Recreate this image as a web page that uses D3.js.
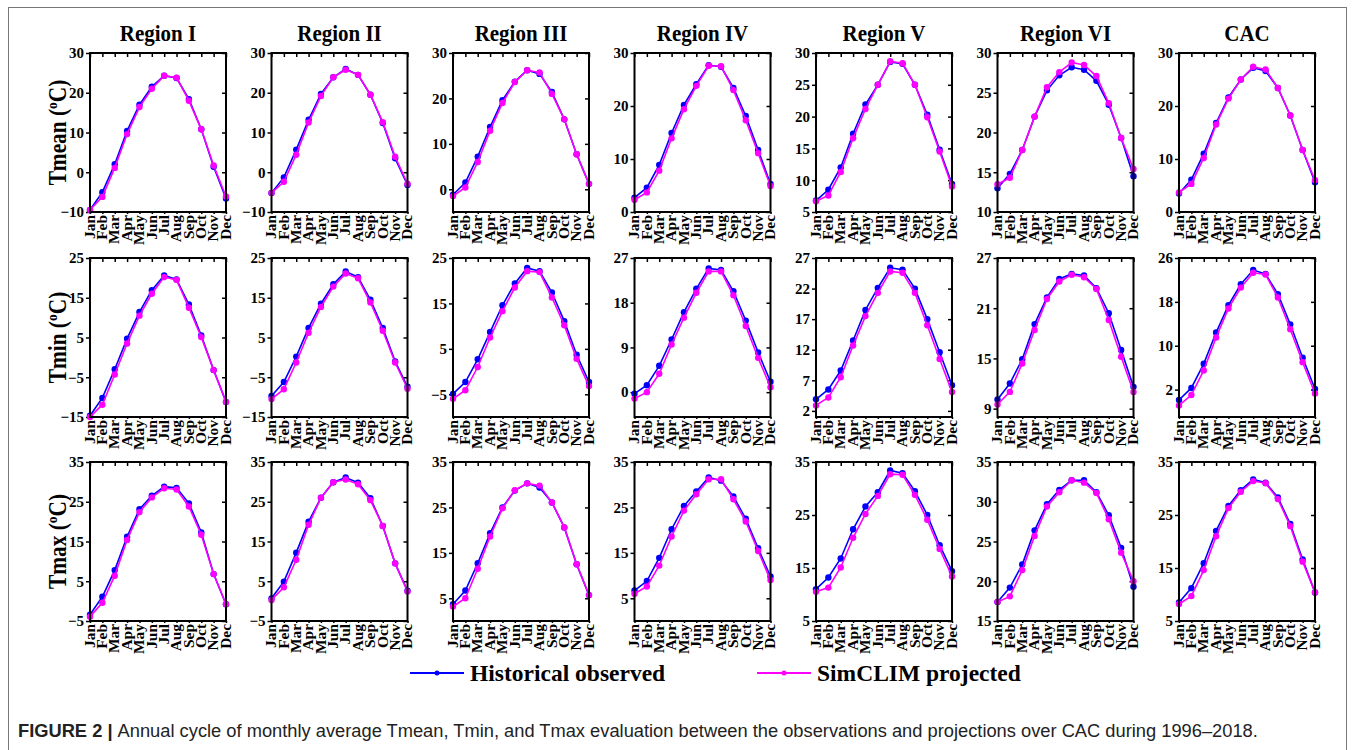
<!DOCTYPE html>
<html><head><meta charset="utf-8">
<script src="https://cdn.jsdelivr.net/npm/d3@7"></script>
<style>
body{margin:0;background:#fff;}
svg{display:block;}
</style></head>
<body>
<svg id="chart" width="1355" height="750"></svg>
<script>
const months = ["Jan","Feb","Mar","Apr","May","Jun","Jul","Aug","Sep","Oct","Nov","Dec"];
const regions = ["Region I","Region II","Region III","Region IV","Region V","Region VI","CAC"];
const variables = ["Tmean","Tmin","Tmax"];
const seriesNames = ["Historical observed","SimCLIM projected"];

// Tmean (order: Region I..VI, CAC)
const tmeanObs = [
  [-9.5,-5.0,2.0,10.4,17.0,21.5,24.3,23.7,18.4,10.8,1.4,-6.6],
  [-5.2,-1.3,5.7,13.2,19.7,23.9,26.0,24.5,19.5,12.4,3.5,-3.2],
  [-1.2,1.5,7.2,13.7,19.6,23.7,26.2,25.4,21.4,15.4,7.7,1.2],
  [2.7,4.6,8.9,14.9,20.2,24.1,27.7,27.4,23.4,18.1,11.7,5.3],
  [6.8,8.5,12.0,17.3,21.9,25.0,28.6,28.3,25.0,20.3,14.8,9.4],
  [13.0,14.8,17.8,22.0,25.3,27.2,28.2,27.9,26.5,23.5,19.3,14.5],
  [3.5,6.1,11.0,16.8,21.6,25.0,27.2,26.6,23.4,18.2,11.7,5.6]
];
const tmeanSim = [
  [-9.5,-6.2,1.1,9.6,16.4,21.0,24.3,23.8,18.0,10.8,1.7,-6.1],
  [-5.2,-2.4,4.4,12.5,19.2,23.9,25.8,24.5,19.5,12.6,3.9,-2.9],
  [-1.5,0.4,6.0,12.9,19.0,23.6,26.2,25.7,21.0,15.4,7.7,1.2],
  [2.3,3.7,7.8,13.9,19.4,23.8,27.6,27.5,23.0,17.3,11.1,4.9],
  [6.7,7.6,11.3,16.6,21.2,25.0,28.7,28.4,25.0,19.9,14.5,9.0],
  [13.5,14.3,17.8,22.0,25.7,27.6,28.8,28.5,27.1,23.7,19.3,15.4],
  [3.7,5.3,10.2,16.5,21.4,25.0,27.4,26.9,23.4,18.2,11.7,6.0]
];
// Tmin
const tminObs = [
  [-14.7,-10.2,-3.0,4.7,11.4,16.9,20.6,19.6,13.3,5.5,-3.2,-11.2],
  [-9.7,-6.2,0.2,7.4,13.5,18.4,21.6,20.2,14.5,7.4,-1.0,-7.4],
  [-4.9,-2.3,2.7,8.7,14.6,19.4,22.8,22.1,17.4,11.1,3.7,-2.3],
  [-0.3,1.4,5.3,10.6,16.1,20.8,24.9,24.6,20.3,14.4,8.0,2.1],
  [3.9,5.5,8.6,13.5,18.5,22.1,25.4,25.1,22.0,17.0,11.6,6.2],
  [10.1,12.0,14.9,19.1,22.3,24.5,25.1,24.9,23.4,20.4,16.0,11.6],
  [0.1,2.3,6.7,12.4,17.4,21.2,23.8,23.1,19.4,13.9,7.8,2.1]
];
const tminSim = [
  [-15.0,-11.9,-4.3,3.5,10.5,16.0,20.2,19.5,12.5,5.1,-3.2,-11.2],
  [-10.5,-8.0,-1.3,6.2,12.7,17.8,21.1,19.9,13.8,6.7,-1.3,-7.9],
  [-6.0,-4.1,1.0,7.5,13.3,18.5,22.1,21.9,16.3,10.2,2.8,-3.2],
  [-1.3,0.0,3.7,9.6,15.0,20.0,24.3,24.3,19.5,13.3,6.9,1.0],
  [2.9,4.2,7.5,12.7,17.5,21.3,24.8,24.6,21.3,16.0,10.5,5.1],
  [9.5,11.0,14.4,18.4,22.1,24.2,25.0,24.7,23.3,19.6,15.2,11.0],
  [-0.9,1.0,5.5,11.5,16.8,20.6,23.3,23.0,18.8,13.0,7.0,1.3]
];
// Tmax
const tmaxObs = [
  [-3.4,1.1,7.8,16.2,23.1,26.5,28.8,28.5,24.6,17.3,6.8,-0.8],
  [0.7,4.9,12.2,20.0,26.0,29.9,31.1,29.8,25.9,18.9,9.5,2.6],
  [3.7,6.7,12.7,19.3,25.0,28.7,30.3,29.4,26.1,20.6,12.5,5.7],
  [6.7,8.8,13.9,20.2,25.3,28.5,31.6,30.9,27.4,22.5,16.0,9.8],
  [11.0,13.2,16.8,22.3,26.6,29.3,33.4,32.9,29.5,25.0,19.3,14.4],
  [17.4,19.2,22.1,26.4,29.7,31.5,32.7,32.7,31.2,28.3,24.2,19.3],
  [8.5,11.2,15.9,22.0,26.7,29.7,31.7,31.1,28.3,23.3,16.6,10.4]
];
const tmaxSim = [
  [-3.9,-0.4,6.4,15.4,22.4,26.1,28.4,28.1,23.8,16.7,6.8,-0.8],
  [0.3,3.5,10.4,19.2,26.0,29.9,30.6,29.4,25.4,18.9,9.5,2.4],
  [3.2,5.0,11.5,18.6,24.8,28.8,30.3,29.8,26.1,20.6,12.5,5.7],
  [6.0,7.6,12.2,18.6,24.3,27.9,31.2,31.2,26.8,21.9,15.4,9.0],
  [10.5,11.3,15.1,20.7,25.2,28.6,32.7,32.6,28.8,24.1,18.6,13.4],
  [17.4,18.1,21.4,25.7,29.4,31.2,32.7,32.4,31.1,27.8,23.6,20.0],
  [8.2,9.7,14.6,21.0,26.3,29.4,31.4,31.0,28.0,22.9,16.2,10.4]
];

// y-axis domains and tick labels per panel
const tmeanDomains = [[-10,30],[-10,30],[-5,30],[0,30],[5,30],[10,30],[0,30]];
const tmeanTicks = [[-10,0,10,20,30],[-10,0,10,20,30],[0,10,20,30],[0,10,20,30],[5,10,15,20,25,30],[10,15,20,25,30],[0,10,20,30]];
const tminDomains = [[-15,25],[-15,25],[-10,25],[-5,27],[1,27],[8,27],[-3,26]];
const tminTicks = [[-15,-5,5,15,25],[-15,-5,5,15,25],[-5,5,15,25],[0,9,18,27],[2,7,12,17,22,27],[9,15,21,27],[2,10,18,26]];
const tmaxDomains = [[-5,35],[-5,35],[0,35],[0,35],[5,35],[15,35],[5,35]];
const tmaxTicks = [[-5,5,15,25,35],[-5,5,15,25,35],[5,15,25,35],[5,15,25,35],[5,15,25,35],[15,20,25,30,35],[5,15,25,35]];

const colors = ["#0000ff","#ff00ff"];
const rows = [
  {name:"Tmean", obs:tmeanObs, sim:tmeanSim, domains:tmeanDomains, ticks:tmeanTicks},
  {name:"Tmin", obs:tminObs, sim:tminSim, domains:tminDomains, ticks:tminTicks},
  {name:"Tmax", obs:tmaxObs, sim:tmaxSim, domains:tmaxDomains, ticks:tmaxTicks}
];

const svg = d3.select("#chart");
const serif = "'Liberation Serif','Times New Roman',serif";

// outer frame
svg.append("rect").attr("x",8.5).attr("y",7.5).attr("width",1338).attr("height",760)
  .attr("fill","none").attr("stroke","#777").attr("stroke-width",1);

const W = 136, H = 159;
const left0 = 90, dx = 181.5;
const tops = [53, 258, 462];

const x = d3.scalePoint().domain(months).range([0, W]).padding(0);

// column titles
regions.forEach((r,i)=>{
  svg.append("text").attr("transform",`translate(${left0 + i*dx + W/2},41) scale(1,1.12)`)
    .attr("text-anchor","middle").attr("font-family",serif).attr("font-weight","bold")
    .attr("font-size",21).text(r);
});

rows.forEach((row, ri)=>{
  const top = tops[ri];
  // row label
  const lab = svg.append("text")
    .attr("transform",`translate(66,${top+H/2}) rotate(-90) scale(0.97,1.1)`)
    .attr("text-anchor","middle").attr("font-family",serif).attr("font-weight","bold")
    .attr("font-size",22);
  lab.append("tspan").text(row.name + " (");
  lab.append("tspan").attr("font-size",14).attr("dy",-8).text("o");
  lab.append("tspan").attr("dy",8).text("C)");

  regions.forEach((reg, ci)=>{
    const g = svg.append("g").attr("transform",`translate(${left0 + ci*dx},${top})`);
    const y = d3.scaleLinear().domain(row.domains[ci]).range([H,0]);
    const ticks = row.ticks[ci];

    // left axis
    const ly = g.append("g").call(d3.axisLeft(y).tickValues(ticks).tickSize(4).tickPadding(2).tickFormat(d3.format("d")));
    ly.select(".domain").remove();
    ly.selectAll("line").attr("stroke","#000").attr("stroke-width",1.5);
    ly.selectAll("text").attr("font-family",serif).attr("font-weight","bold").attr("font-size",15).attr("fill","#000");
    // right axis inward
    const ry = g.append("g").attr("transform",`translate(${W},0)`).call(d3.axisLeft(y).tickValues(ticks).tickSize(4).tickFormat(""));
    ry.select(".domain").remove();
    ry.selectAll("line").attr("stroke","#000").attr("stroke-width",1.5);
    // top axis inward
    const tx = g.append("g").call(d3.axisBottom(x).tickSize(4).tickFormat(""));
    tx.select(".domain").remove();
    tx.selectAll("line").attr("stroke","#000").attr("stroke-width",1.5);
    // bottom axis
    const bx = g.append("g").attr("transform",`translate(0,${H})`).call(d3.axisBottom(x).tickSize(2).tickFormat(""));
    bx.select(".domain").remove();
    bx.selectAll("line").attr("stroke","#000").attr("stroke-width",1.5);
    // month labels
    g.append("g").selectAll("text").data(months).join("text")
      .attr("transform", d=>`translate(${x(d)},${H+3}) rotate(-90) scale(1.1,1)`)
      .attr("text-anchor","end").attr("dominant-baseline","central")
      .attr("font-family",serif).attr("font-weight","bold").attr("font-size",14)
      .text(d=>d);

    // series
    [row.obs[ci], row.sim[ci]].forEach((vals, si)=>{
      const pts = vals.map((v,k)=>({m:months[k], v}));
      g.append("path").datum(pts)
        .attr("fill","none").attr("stroke",colors[si]).attr("stroke-width",1.6)
        .attr("d", d3.line().x(d=>x(d.m)).y(d=>y(d.v)));
      g.append("g").selectAll("circle").data(pts).join("circle")
        .attr("cx", d=>x(d.m)).attr("cy", d=>y(d.v)).attr("r",3.2)
        .attr("fill",colors[si]);
    });

    // frame
    g.append("rect").attr("x",0).attr("y",0).attr("width",W).attr("height",H)
      .attr("fill","none").attr("stroke","#000").attr("stroke-width",2);
  });
});

// legend
const legX = [410, 757];
seriesNames.forEach((s,i)=>{
  const lg = svg.append("g").attr("transform",`translate(${legX[i]},673)`);
  lg.append("line").attr("x1",0).attr("x2",54).attr("y1",0).attr("y2",0)
    .attr("stroke",colors[i]).attr("stroke-width",2);
  lg.append("circle").attr("cx",27).attr("cy",0).attr("r",2.5).attr("fill",colors[i]);
  lg.append("text").attr("x",60).attr("y",8).attr("font-family",serif)
    .attr("font-weight","bold").attr("font-size",23.5).text(s);
});

// caption
const cap = svg.append("text").attr("x",18).attr("y",737)
  .attr("font-family","'Liberation Sans',Arial,sans-serif").attr("font-size",18.3).attr("fill","#222");
cap.append("tspan").attr("font-weight","bold").text("FIGURE 2 | ");
cap.append("tspan").text("Annual cycle of monthly average Tmean, Tmin, and Tmax evaluation between the observations and projections over CAC during 1996–2018.");
</script>
</body></html>
